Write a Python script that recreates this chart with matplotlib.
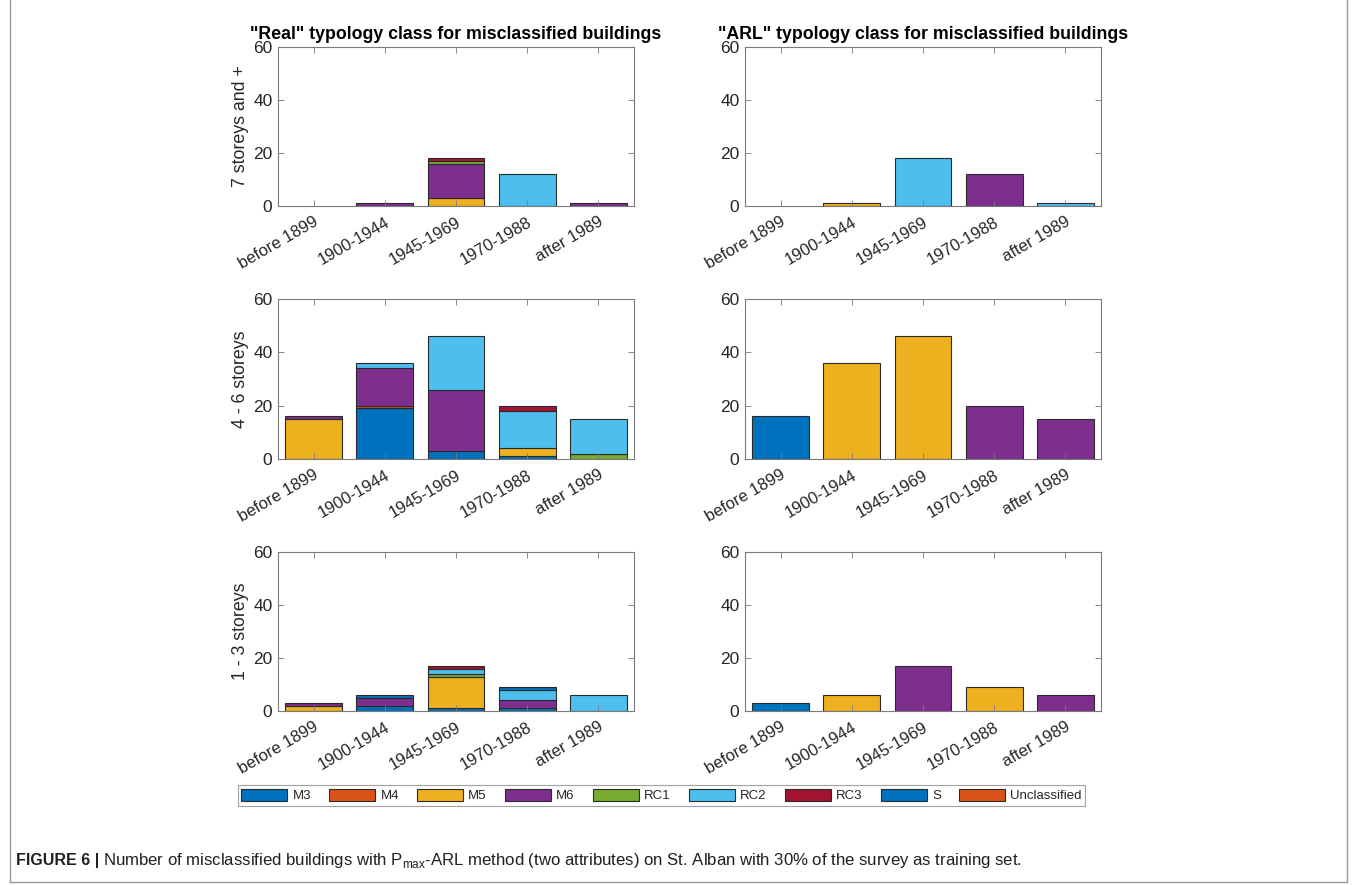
import numpy as np
import matplotlib
matplotlib.use('Agg')
import matplotlib.pyplot as plt
from matplotlib.patches import Patch
from matplotlib.lines import Line2D

plt.rcParams['font.family'] = ['Liberation Sans', 'DejaVu Sans']

# ── data ────────────────────────────────────────────────────────────────────
periods = ['before 1899', '1900-1944', '1945-1969', '1970-1988', 'after 1989']
classes = ['M3', 'M4', 'M5', 'M6', 'RC1', 'RC2', 'RC3', 'S', 'Unclassified']
colors = ['#0072BD', '#D95319', '#EDB120', '#7E2F8E', '#77AC30',
          '#4DBEEE', '#A2142F', '#0072BD', '#D95319']

# counts per class, one value per period
real_high = {'M5': [0, 0, 3, 0, 0], 'M6': [0, 1, 13, 0, 1], 'RC1': [0, 0, 1, 0, 0],
             'RC2': [0, 0, 0, 12, 0], 'RC3': [0, 0, 1, 0, 0]}
arl_high = {'M5': [0, 1, 0, 0, 0], 'M6': [0, 0, 0, 12, 0], 'RC2': [0, 0, 18, 0, 1]}

real_mid = {'M3': [0, 19, 3, 1, 0], 'M4': [0, 1, 0, 0, 0], 'M5': [15, 0, 0, 3, 0],
            'M6': [1, 14, 23, 0, 0], 'RC1': [0, 0, 0, 0, 2],
            'RC2': [0, 2, 20, 14, 13], 'RC3': [0, 0, 0, 2, 0]}
arl_mid = {'M3': [16, 0, 0, 0, 0], 'M5': [0, 36, 46, 0, 0], 'M6': [0, 0, 0, 20, 15]}

real_low = {'M3': [0, 2, 1, 1, 0], 'M5': [2, 0, 12, 0, 0], 'M6': [1, 3, 0, 3, 0],
            'RC1': [0, 0, 1, 0, 0], 'RC2': [0, 0, 2, 4, 6], 'RC3': [0, 0, 1, 0, 0],
            'S': [0, 1, 0, 1, 0]}
arl_low = {'M3': [3, 0, 0, 0, 0], 'M5': [0, 6, 0, 9, 0], 'M6': [0, 0, 17, 0, 6]}

row_labels = ['7 storeys and +', '4 - 6 storeys', '1 - 3 storeys']
titles = ['"Real" typology class for misclassified buildings',
          '"ARL" typology class for misclassified buildings']
panels = [[real_high, arl_high], [real_mid, arl_mid], [real_low, arl_low]]

# ── layout (pixel boxes) ────────────────────────────────────────────────────
W, H = 1357, 885
fig = plt.figure(figsize=(W / 100, H / 100), dpi=100)

cols_px = [(278, 634), (745, 1101)]
rows_px = [(47, 206), (299, 459), (552, 711)]
TXT = '#262626'
SPINE = '#7a7a7a'


def px_axes(x0, x1, y0, y1):
    return fig.add_axes([x0 / W, 1 - y1 / H, (x1 - x0) / W, (y1 - y0) / H])


def stacked(ax, counts):
    x = np.arange(1, len(periods) + 1)
    bottom = np.zeros(len(periods))
    for cls, clr in zip(classes, colors):
        vals = np.array(counts.get(cls, [0] * len(periods)), dtype=float)
        keep = vals > 0
        if keep.any():
            ax.bar(x[keep], vals[keep], bottom=bottom[keep], width=0.8,
                   color=clr, edgecolor='#2a2a2a', linewidth=0.8)
        bottom += vals


for r, (y0, y1) in enumerate(rows_px):
    for c, (x0, x1) in enumerate(cols_px):
        ax = px_axes(x0, x1, y0, y1)
        stacked(ax, panels[r][c])
        ax.set_xlim(0.5, 5.5)
        ax.set_ylim(0, 60)
        ax.set_yticks([0, 20, 40, 60])
        ax.set_xticks(np.arange(1, 6))
        ax.set_xticklabels(periods, rotation=30, ha='right',
                           rotation_mode='anchor')
        ax.tick_params(direction='in', top=True, right=True, length=4,
                       width=0.6, color=SPINE, labelcolor=TXT, pad=4)
        ax.tick_params(axis='y', labelsize=12.5)
        ax.tick_params(axis='x', labelsize=12, pad=6)
        for s in ax.spines.values():
            s.set_color(SPINE)
            s.set_linewidth(0.8)
        if c == 0:
            ax.set_ylabel(row_labels[r], fontsize=12.8, color=TXT, labelpad=3)
        if r == 0:
            ax.set_title(titles[c], fontsize=12.8, fontweight='bold',
                         color='black', pad=6)

# ── legend ──────────────────────────────────────────────────────────────────
handles = [Patch(facecolor=clr, edgecolor='#2a2a2a', linewidth=0.8)
           for clr in colors]
leg = fig.legend(handles, classes, ncol=9, loc='center',
                 bbox_to_anchor=(661.5 / W, 1 - 795.5 / H),
                 fontsize=9.5, frameon=True, fancybox=False,
                 handlelength=3.5, handleheight=1.0, handletextpad=0.38,
                 columnspacing=1.38, borderpad=0.25, borderaxespad=0)
leg.get_frame().set_edgecolor('#8a8a8a')
leg.get_frame().set_linewidth(0.8)
for t in leg.get_texts():
    t.set_color(TXT)

# ── caption and frame ───────────────────────────────────────────────────────
cap_y = 1 - 861 / H
bold = fig.text(16 / W, cap_y, 'FIGURE 6 |', fontsize=11.5, fontweight='bold',
                color='#231f20', va='center', ha='left')
fig.canvas.draw()
bb = bold.get_window_extent()
fig.text((bb.x1 + 4) / W, cap_y,
         r'Number of misclassified buildings with P$_{\mathregular{max}}$-ARL '
         r'method (two attributes) on St. Alban with 30% of the survey as '
         r'training set.',
         fontsize=12.1, color='#231f20', va='center', ha='left')

for xs, ys in [([10, 10], [0, 882]), ([1347, 1347], [0, 882]),
               ([10, 1347], [882, 882])]:
    fig.add_artist(Line2D([x / W for x in xs], [1 - y / H for y in ys],
                          color='#9a9a9a', linewidth=1.0))

fig.savefig('out.png', dpi=100)
